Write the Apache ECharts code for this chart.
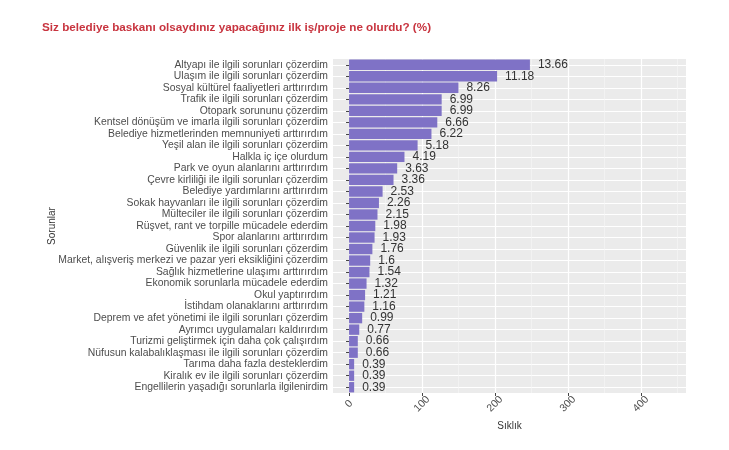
<!DOCTYPE html>
<html>
<head>
<meta charset="utf-8">
<script src="https://cdn.jsdelivr.net/npm/echarts@6/dist/echarts.min.js"></script>
<style>html,body{margin:0;padding:0;background:#fff}#c{width:729px;height:450px}</style>
</head>
<body>
<div id="c"></div>
<script>
const categories = [
  "Altyapı ile ilgili sorunları çözerdim",
  "Ulaşım ile ilgili sorunları çözerdim",
  "Sosyal kültürel faaliyetleri arttırırdım",
  "Trafik ile ilgili sorunları çözerdim",
  "Otopark sorununu çözerdim",
  "Kentsel dönüşüm ve imarla ilgili sorunları çözerdim",
  "Belediye hizmetlerinden memnuniyeti arttırırdım",
  "Yeşil alan ile ilgili sorunları çözerdim",
  "Halkla iç içe olurdum",
  "Park ve oyun alanlarını arttırırdım",
  "Çevre kirliliği ile ilgili sorunları çözerdim",
  "Belediye yardımlarını arttırırdım",
  "Sokak hayvanları ile ilgili sorunları çözerdim",
  "Mülteciler ile ilgili sorunları çözerdim",
  "Rüşvet, rant ve torpille mücadele ederdim",
  "Spor alanlarını arttırırdım",
  "Güvenlik ile ilgili sorunları çözerdim",
  "Market, alışveriş merkezi ve pazar yeri eksikliğini çözerdim",
  "Sağlık hizmetlerine ulaşımı arttırırdım",
  "Ekonomik sorunlarla mücadele ederdim",
  "Okul yaptırırdım",
  "İstihdam olanaklarını arttırırdım",
  "Deprem ve afet yönetimi ile ilgili sorunları çözerdim",
  "Ayrımcı uygulamaları kaldırırdım",
  "Turizmi geliştirmek için daha çok çalışırdım",
  "Nüfusun kalabalıklaşması ile ilgili sorunları çözerdim",
  "Tarıma daha fazla desteklerdim",
  "Kiralık ev ile ilgili sorunları çözerdim",
  "Engellilerin yaşadığı sorunlarla ilgilenirdim"
];
const counts = [248, 203, 150, 127, 127, 121, 113, 94, 76, 66, 61, 46, 41, 39, 36, 35, 32, 29, 28, 24, 22, 21, 18, 14, 12, 12, 7, 7, 7];
const percentLabels = ["13.66", "11.18", "8.26", "6.99", "6.99", "6.66", "6.22", "5.18", "4.19", "3.63", "3.36", "2.53", "2.26", "2.15", "1.98", "1.93", "1.76", "1.6", "1.54", "1.32", "1.21", "1.16", "0.99", "0.77", "0.66", "0.66", "0.39", "0.39", "0.39"];
const xMajorTicks = [0, 100, 200, 300, 400];
const xMinorTicks = [50, 150, 250, 350, 450];
const xMin = -22, xMax = 462;

const chart = echarts.init(document.getElementById('c'), null, {renderer: 'canvas'});
chart.setOption({
  backgroundColor: '#ffffff',
  animation: false,
  title: {
    text: 'Siz belediye baskanı olsaydınız yapacağınız ilk iş/proje ne olurdu? (%)',
    left: 37, top: 17,
    textStyle: {fontFamily: 'Liberation Sans', fontWeight: 'bold', fontSize: 11.7, color: '#c8343f'}
  },
  grid: {
    left: 333, top: 59, width: 353, height: 334,
    show: true, backgroundColor: '#ebebeb', borderWidth: 0, containLabel: false
  },
  xAxis: [{
    type: 'value', min: xMin, max: xMax,
    name: 'Sıklık', nameLocation: 'middle', nameGap: 25,
    nameTextStyle: {fontFamily: 'Liberation Sans', fontSize: 10, color: '#333'},
    axisLine: {show: false},
    axisTick: {show: true, length: 3, customValues: xMajorTicks, lineStyle: {color: '#444', width: 1}},
    axisLabel: {customValues: xMajorTicks, rotate: 45, align: 'center', verticalAlign: 'middle', margin: 11,
      fontFamily: 'Liberation Sans', fontSize: 10.5, color: '#4d4d4d'},
    splitLine: {show: true, lineStyle: {color: '#ffffff', width: 1.2}}
  }, {
    type: 'value', min: xMin, max: xMax, position: 'bottom',
    axisLine: {show: false},
    axisTick: {show: false, customValues: xMinorTicks},
    axisLabel: {show: false},
    splitLine: {show: true, lineStyle: {color: '#f7f7f7', width: 0.6}}
  }],
  yAxis: {
    type: 'category', data: categories, inverse: true,
    name: 'Sorunlar', nameLocation: 'middle', nameGap: 276, nameRotate: 90,
    nameMoveOverlap: false,
    nameTextStyle: {fontFamily: 'Liberation Sans', fontSize: 10, color: '#333'},
    axisLine: {show: false},
    axisTick: {show: true, alignWithLabel: true, length: 3, lineStyle: {color: '#444'}},
    axisLabel: {margin: 5, fontFamily: 'Liberation Sans', fontSize: 10.4, color: '#4d4d4d', interval: 0},
    splitLine: {show: true, alignWithLabel: true, lineStyle: {color: '#ffffff', width: 1.2}}
  },
  series: [{
    type: 'bar', xAxisIndex: 0, data: counts,
    barCategoryGap: '10%',
    itemStyle: {color: '#7f72c6'},
    label: {
      show: true, position: 'right', distance: 8,
      fontFamily: 'Liberation Sans', fontSize: 12, color: '#333',
      formatter: p => percentLabels[p.dataIndex]
    }
  }]
});
</script>
</body>
</html>
